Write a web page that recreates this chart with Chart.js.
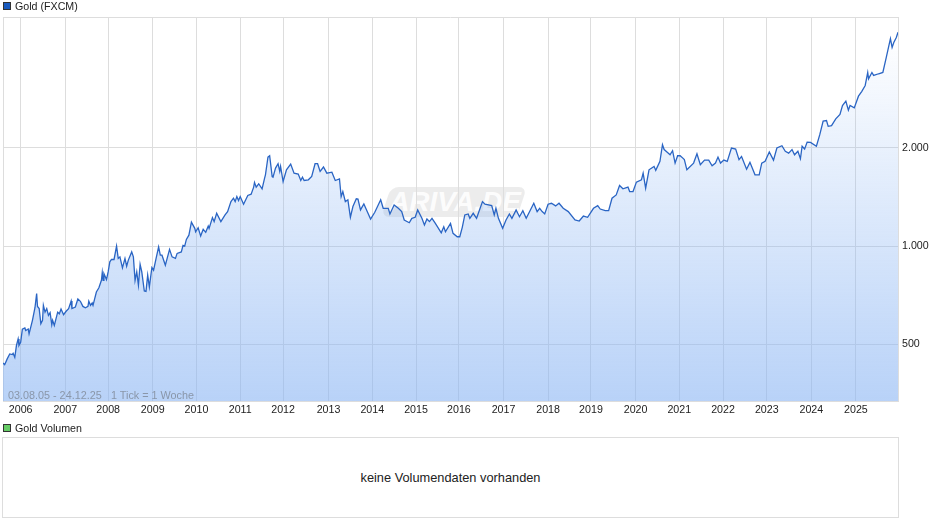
<!DOCTYPE html>
<html lang="de">
<head>
<meta charset="utf-8">
<title>Gold (FXCM)</title>
<script src="https://cdn.jsdelivr.net/npm/chart.js@4"></script>
<style>
  html, body { margin: 0; padding: 0; background: #fff; }
  body { position: relative; width: 940px; height: 526px; overflow: hidden; font: 10.667px "Liberation Sans", Arial, sans-serif; color: #222; }
  canvas { position: absolute; left: 0; top: 0; }
  .txt { position: absolute; white-space: nowrap; line-height: 12px; }
  .box { position: absolute; width: 6px; height: 6px; border: 1px solid #333; }
  .range { color: rgba(90, 90, 90, 0.5); font-size: 10.8px; }
  #volume { position: absolute; left: 2px; top: 437px; width: 895px; height: 79px; border: 1px solid #ddd; text-align: center; line-height: 79px; font-size: 12.8px; }
  #mark { position: absolute; left: 386px; top: 187px; width: 136px; height: 30px; background: rgba(110, 110, 110, 0.13); border-radius: 8px; transform: skewX(-18deg); }
  #markText { position: absolute; left: 387px; top: 187px; width: 136px; height: 30px; text-align: center; font: italic bold 28px/30px "Liberation Sans", Arial, sans-serif; color: rgba(255, 255, 255, 0.9); }
</style>
</head>
<body>
<div id="mark"></div>
<div id="markText">ARIVA.DE</div>
<canvas id="goldChart" width="940" height="425"></canvas>
<div class="box" style="left:3px;top:2px;background:#1a5bbf"></div>
<div class="txt" style="left:15px;top:0">Gold (FXCM)</div>
<div class="txt range" style="left:8px;top:389px">03.08.05 - 24.12.25</div>
<div class="txt range" style="left:111px;top:389px">1 Tick = 1 Woche</div>
<div class="box" style="left:3px;top:424px;background:#66cc66"></div>
<div class="txt" style="left:15px;top:422px">Gold Volumen</div>
<div id="volume">keine Volumendaten vorhanden</div>
<script>
// week number since 03.08.05 and the price
const weeks = [
  0, 2, 5, 8, 11, 12, 14, 16, 18, 19, 21, 23, 26, 27, 30, 31, 35, 38, 40, 41, 43, 45, 47, 48, 50, 52, 54, 56, 58, 59, 61,
  65, 67, 69, 72, 75, 78, 81, 82, 86, 89, 92, 95, 98, 101, 102, 104, 106, 107, 111, 114, 117, 118, 119, 120, 123, 125, 127, 129,
  132, 135, 137, 139, 142, 145, 147, 149, 153, 155, 157, 159, 161, 163, 165, 168, 170, 172, 174, 177, 179, 182, 185, 187, 189, 193,
  198, 201, 205, 207, 212, 214, 216, 218, 221, 224, 228, 229, 232, 235, 238, 241, 244, 245, 249, 251, 254, 259, 264, 267, 271,
  274, 276, 278, 280, 282, 286, 291, 295, 298, 299, 301, 304, 308, 311, 312, 315, 317, 320, 321, 324, 327, 329, 330, 333, 337,
  342, 346, 351, 354, 356, 358, 363, 367, 371, 374, 377, 381, 385, 391, 395, 400, 402, 404, 407, 410, 413, 416, 420, 422, 425,
  429, 433, 437, 442, 449, 452, 458, 460, 465, 470, 474, 477, 483, 486, 490, 493, 498, 501, 504, 507, 510, 514, 521, 524, 526,
  532, 535, 540, 543, 546, 549, 553, 555, 559, 563, 570, 573, 581, 584, 586, 589, 594, 598, 602, 605, 610, 614, 618, 622, 627,
  631, 635, 638, 641, 644, 648, 652, 657, 661, 666, 672, 680, 685, 690, 695, 702, 707, 710, 716, 720, 724, 729, 733, 737, 743,
  745, 749, 753, 759, 761, 764, 768, 774, 776, 781, 784, 786, 790, 793, 796, 799, 802, 805, 807, 810, 813, 821, 825, 829, 834,
  839, 843, 847, 850, 853, 857, 861, 866, 871, 875, 878, 884, 888, 894, 899, 902, 906, 911, 916, 920, 926, 930, 934, 938, 941,
  945, 948, 950, 953, 956, 960, 967, 971, 975, 979, 981, 985, 990, 995, 998, 1002, 1005, 1007, 1012, 1017, 1021, 1025, 1028, 1029,
  1033, 1035, 1041, 1046, 1050, 1055, 1057, 1059, 1062, 1064
];
const prices = [
  439, 434, 452, 468, 466, 470, 457, 497, 520, 497, 508, 557, 562, 552, 558, 539, 593, 648, 716, 654, 644, 579, 593, 659, 628, 644, 614, 626, 575, 593, 572,
  628, 621, 642, 617, 632, 644, 679, 644, 651, 689, 678, 654, 648, 654, 679, 659, 670, 659, 724, 746, 786, 830, 786, 824, 790, 834, 895, 910,
  910, 1000, 917, 927, 858, 917, 868, 906, 960, 927, 786, 834, 759, 879, 834, 729, 727, 815, 750, 860, 844, 917, 995, 938, 938, 874,
  977, 927, 917, 950, 960, 1005, 1000, 1048, 1080, 1183, 1133, 1106, 1138, 1073, 1125, 1102, 1152, 1133, 1222, 1188, 1260, 1188, 1245, 1275, 1368,
  1401, 1368, 1417, 1378, 1417, 1343, 1428, 1441, 1515, 1566, 1515, 1551, 1497, 1613, 1652, 1871, 1889, 1632, 1625, 1732, 1786, 1692, 1753, 1576, 1711,
  1782, 1671, 1660, 1587, 1625, 1587, 1595, 1632, 1786, 1786, 1692, 1745, 1671, 1683, 1587, 1606, 1417, 1468, 1368, 1385, 1225, 1321, 1395, 1392, 1290,
  1346, 1275, 1210, 1269, 1385, 1305, 1305, 1254, 1336, 1305, 1275, 1202, 1179, 1216, 1225, 1290, 1216, 1160, 1210, 1188, 1216, 1174, 1098, 1146, 1106,
  1174, 1094, 1068, 1068, 1141, 1245, 1254, 1216, 1260, 1216, 1368, 1343, 1330, 1245, 1305, 1216, 1133, 1202, 1254, 1216, 1290, 1230, 1283, 1216, 1290,
  1352, 1275, 1305, 1275, 1254, 1343, 1352, 1327, 1352, 1305, 1275, 1202, 1193, 1236, 1225, 1305, 1330, 1298, 1283, 1283, 1401, 1434, 1532, 1497, 1515,
  1468, 1468, 1569, 1595, 1671, 1504, 1711, 1753, 1704, 1816, 2042, 1973, 1933, 1902, 1957, 1794, 1889, 1889, 1871, 1838, 1711, 1794, 1914, 1774, 1832,
  1832, 1760, 1794, 1871, 1794, 1832, 1816, 1995, 1981, 1838, 1880, 1718, 1803, 1652, 1652, 1794, 1816, 1940, 1832, 1995, 2027, 1949, 1925, 1973, 1902,
  1949, 1850, 2020, 1981, 2079, 2076, 2020, 2191, 2411, 2421, 2324, 2335, 2449, 2527, 2690, 2774, 2605, 2690, 2646, 2874, 2974, 3099, 3395, 3247,
  3395, 3326, 3365, 3395, 3770, 4307, 4050, 4191, 4344, 4505
];

const yearTicks = [21, 74, 125, 178, 230, 282, 333, 387, 439, 491, 542, 595, 648, 699, 752, 804, 856, 908, 961, 1014];
const yearLabels = ['2006', '2007', '2008', '2009', '2010', '2011', '2012', '2013', '2014', '2015', '2016', '2017', '2018', '2019', '2020', '2021', '2022', '2023', '2024', '2025'];
const priceTicks = [500, 1000, 2000];
const priceLabels = ['500', '1.000', '2.000'];

const firstWeek = 0;
const lastWeek = 1064;
const priceMin = 336;
const priceMax = 5018;

function areaFill(context) {
  const area = context.chart.chartArea;
  if (!area) return 'transparent';
  const g = context.chart.ctx.createLinearGradient(0, area.top + 16, 0, area.bottom);
  g.addColorStop(0, 'rgba(137, 180, 243, 0)');
  g.addColorStop(1, 'rgba(137, 180, 243, 0.6)');
  return g;
}

new Chart(document.getElementById('goldChart').getContext('2d'), {
  type: 'line',
  data: {
    datasets: [{
      label: 'Gold (FXCM)',
      data: weeks.map((w, i) => ({ x: w, y: prices[i] })),
      borderColor: '#2a65c4',
      borderWidth: 1.3,
      pointRadius: 0,
      tension: 0,
      fill: 'start',
      backgroundColor: areaFill
    }]
  },
  options: {
    responsive: false,
    animation: false,
    layout: { padding: { top: 17, left: 3, right: 0, bottom: 0 } },
    plugins: { legend: { display: false }, tooltip: { enabled: false } },
    scales: {
      x: {
        type: 'linear',
        min: firstWeek,
        max: lastWeek,
        afterBuildTicks: s => { s.ticks = [firstWeek, ...yearTicks].map(v => ({ value: v })); },
        afterFit: s => { s.height = 24; },
        grid: { color: '#ddd', drawTicks: false },
        border: { color: '#ddd' },
        ticks: {
          autoSkip: false,
          maxRotation: 0,
          padding: 3,
          color: '#222',
          font: { family: '"Liberation Sans", Arial, sans-serif', size: 10.667 },
          callback: v => yearLabels[yearTicks.indexOf(v)] || ''
        }
      },
      y: {
        type: 'logarithmic',
        position: 'right',
        min: priceMin,
        max: priceMax,
        afterBuildTicks: s => { s.ticks = [...priceTicks, priceMax].map(v => ({ value: v })); },
        afterFit: s => { s.width = 42; },
        grid: { color: '#ddd', drawTicks: false },
        border: { color: '#ddd' },
        ticks: {
          autoSkip: false,
          padding: 4,
          color: '#222',
          font: { family: '"Liberation Sans", Arial, sans-serif', size: 10.667 },
          callback: v => priceLabels[priceTicks.indexOf(v)] || ''
        }
      }
    }
  }
});
</script>
</body>
</html>
